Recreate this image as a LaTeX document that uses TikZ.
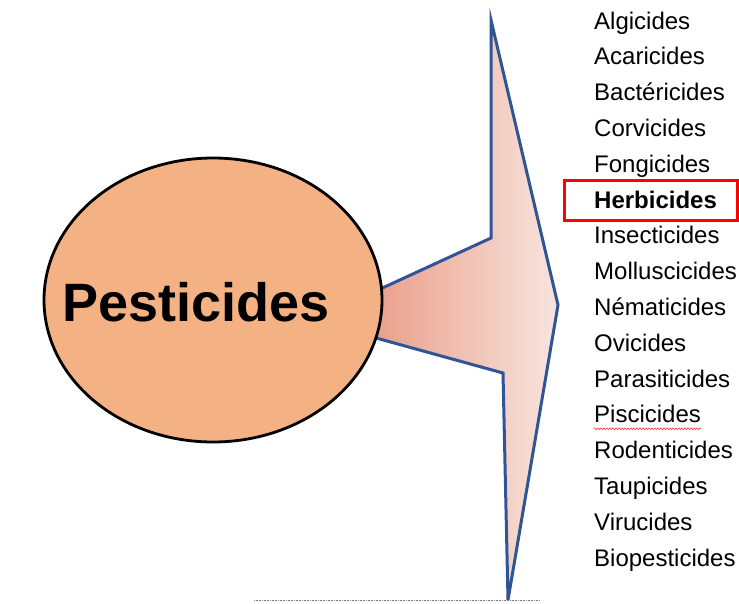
\documentclass[tikz,border=0pt]{standalone}
\usepackage{fontspec}
\setmainfont{Liberation Sans}
\usetikzlibrary{positioning,calc,decorations.pathmorphing}
\definecolor{peach}{RGB}{244,177,131}
\definecolor{arrowblue}{RGB}{47,85,151}
\definecolor{salmon}{RGB}{234,160,140}
\definecolor{blush}{RGB}{248,228,222}

\begin{document}
\begin{tikzpicture}[
    x=1pt,y=-1pt,
    bubble/.style={draw=black,line width=2.8pt,fill=peach},
    fan/.style={draw=arrowblue,line width=3pt,line join=miter,left color=salmon,right color=blush,shading angle=90},
    item/.style={anchor=base west,inner sep=0pt,font=\fontsize{24}{26}\selectfont},
    markbox/.style={draw=red,line width=3pt},
    squiggle/.style={draw=red!70,line width=0.7pt,decorate,decoration={snake,amplitude=0.9pt,segment length=3pt}}
    ]
    \useasboundingbox (0,0) rectangle (739,603);

    % arrow shape behind the circle
    \coordinate (top) at (491,20);
    \coordinate (notchA) at (491,238);
    \coordinate (rootA) at (378,290);
    \coordinate (rootB) at (376,338);
    \coordinate (notchB) at (503,373);
    \coordinate (bottom) at (508,600);
    \coordinate (tip) at (558,305);
    \path[fan] (top)--(notchA)--(rootA)--(rootB)--(notchB)--(bottom)--(tip)--cycle;

    \coordinate (centre) at (213,300);
    \path[bubble] (centre) ellipse [x radius=169,y radius=142];
    \node (pest) at (196,302) {\fontsize{54}{58}\selectfont\bfseries Pesticides};

    % list of classes
    \foreach \name [count=\i] in {Algicides,Acaricides,Bactéricides,Corvicides,Fongicides,
      \textbf{Herbicides},Insecticides,Molluscicides,Nématicides,Ovicides,Parasiticides,
      Piscicides,Rodenticides,Taupicides,Virucides,Biopesticides}
      \node[item] (item\i) at (594,{29+35.8*(\i-1)}) {\name};

    \draw[markbox] (564,180) rectangle (737,220);
    \draw[squiggle] ($(item12.base west)+(0,6)$) -- ($(item12.base east)+(0,6)$);

    \coordinate (lineL) at (254,600);
    \coordinate (lineR) at (540,600);
    \draw[gray,densely dotted,line width=0.6pt] (lineL)--(lineR);

  \end{tikzpicture}
\end{document}
